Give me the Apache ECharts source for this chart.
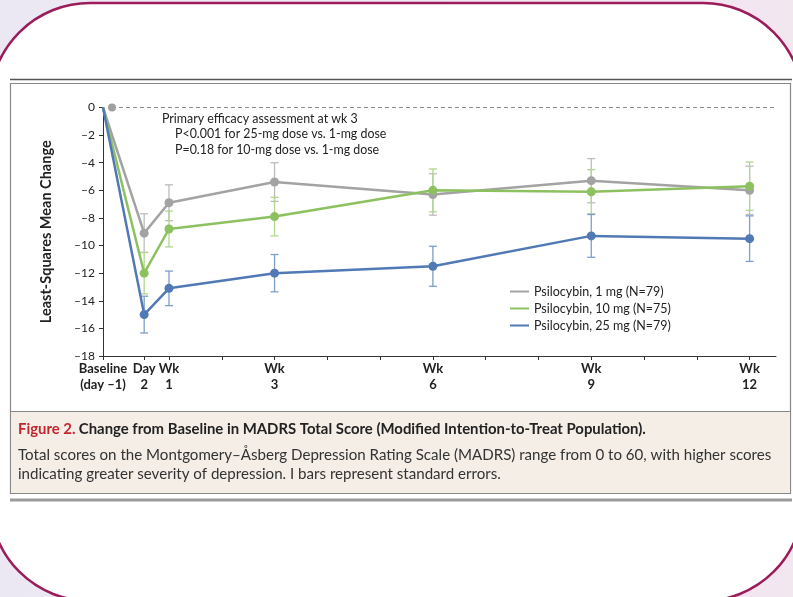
<!DOCTYPE html>
<html>
<head>
<meta charset="utf-8">
<script src="https://cdn.jsdelivr.net/npm/echarts@6/dist/echarts.min.js"></script>
<style>
html,body{margin:0;padding:0;background:#fff;}
#chart{width:793px;height:597px;}
</style>
</head>
<body>
<div id="chart"></div>
<script>
// ---- data ----
const timeLabels = ['Baseline\n(day –1)', 'Day\n2', 'Wk\n1', 'Wk\n3', 'Wk\n6', 'Wk\n9', 'Wk\n12'];
// axis position of each visit, in weeks as drawn on the (schematic) x axis
const timePos = [-0.25, 0.53, 1, 3, 6, 9, 12];
const minorTickPos = [2, 4, 5, 7, 8, 10, 11];

const seriesNames = ['Psilocybin, 1 mg (N=79)', 'Psilocybin, 10 mg (N=75)', 'Psilocybin, 25 mg (N=79)'];
const mean1mg  = [0, -9.1, -6.9, -5.4, -6.3, -5.3, -6.0];
const mean10mg = [0, -12.0, -8.8, -7.9, -6.0, -6.1, -5.7];
const mean25mg = [0, -15.0, -13.1, -12.0, -11.5, -9.3, -9.5];
const se1mg  = [null, 1.4, 1.3, 1.4, 1.5, 1.6, 1.75];
const se10mg = [null, 1.5, 1.3, 1.4, 1.55, 1.6, 1.75];
const se25mg = [null, 1.33, 1.25, 1.35, 1.45, 1.55, 1.65];

const refLineX = [-0.08, 12.48];
const refLineY = [0, 0];

const yTicks = [0, -2, -4, -6, -8, -10, -12, -14, -16, -18];

const annotationLines = [
  'Primary efficacy assessment at wk 3',
  'P<0.001 for 25-mg dose vs. 1-mg dose',
  'P=0.18 for 10-mg dose vs. 1-mg dose'
];
const captionTitleRed = 'Figure 2.';
const captionTitle = 'Change from Baseline in MADRS Total Score (Modified Intention-to-Treat Population).';
const captionBody = ['Total scores on the Montgomery–Åsberg Depression Rating Scale (MADRS) range from 0 to 60, with higher scores',
  'indicating greater severity of depression. I bars represent standard errors.'];

// ---- styling ----
const FONT = 'Lato, "Noto Sans", sans-serif';
const colors = ['#a3a3a3', '#8dc160', '#5079b5'];
const barColors = ['#bcbcbc', '#b3d68f', '#7f9dcb'];

const means = [mean1mg, mean10mg, mean25mg];
const ses = [se1mg, se10mg, se25mg];

function lineData(vals) {
  return vals.map((v, i) => ({
    value: [timePos[i], v],
    symbolSize: i === 0 ? 0 : 9
  }));
}
function barData(vals, se) {
  const out = [];
  vals.forEach((v, i) => {
    if (se[i] != null) out.push([timePos[i], v - se[i], v + se[i]]);
  });
  return out;
}
function errRender(color) {
  return function (params, api) {
    const x = api.value(0);
    const lo = api.coord([x, api.value(1)]);
    const hi = api.coord([x, api.value(2)]);
    const w = 4;
    const st = { stroke: color, lineWidth: 1.3 };
    return {
      type: 'group',
      children: [
        { type: 'line', shape: { x1: hi[0], y1: hi[1], x2: lo[0], y2: lo[1] }, style: st },
        { type: 'line', shape: { x1: hi[0] - w, y1: hi[1], x2: hi[0] + w, y2: hi[1] }, style: st },
        { type: 'line', shape: { x1: lo[0] - w, y1: lo[1], x2: lo[0] + w, y2: lo[1] }, style: st }
      ]
    };
  };
}

function nearestLabel(v) {
  let best = 0, bd = 1e9;
  timePos.forEach((p, i) => { const d = Math.abs(p - v); if (d < bd) { bd = d; best = i; } });
  return bd < 0.05 ? timeLabels[best] : '';
}

const series = [];
means.forEach((m, k) => {
  series.push({
    type: 'custom', name: seriesNames[k] + ' SE', z: 3,
    renderItem: errRender(barColors[k]),
    encode: { x: 0, y: [1, 2] },
    data: barData(m, ses[k]),
    silent: true
  });
});
// reference dashed line
series.push({
  type: 'line', name: 'ref', z: 2, silent: true,
  data: refLineX.map((x, i) => ({ value: [x, refLineY[i]], symbolSize: i === 0 ? 8 : 0 })),
  symbol: 'circle', showSymbol: true,
  itemStyle: { color: '#a0a0a0' },
  lineStyle: { color: '#8a8a8a', width: 1, type: [4, 3] }
});
means.forEach((m, k) => {
  series.push({
    type: 'line', name: seriesNames[k], z: 5 + k,
    data: lineData(m),
    symbol: 'circle',
    itemStyle: { color: colors[k] },
    lineStyle: { color: colors[k], width: 2.5 },
    emphasis: { disabled: true }
  });
});

const graphics = [
  { type: 'rect', z: -30, silent: true, shape: { x: 0, y: 0, width: 793, height: 597 },
    style: { fill: new echarts.graphic.LinearGradient(0, 0, 1, 0, [{ offset: 0, color: '#ebe8f4' }, { offset: 1, color: '#f2e6ef' }]) } },
  { type: 'rect', z: -29, silent: true, shape: { x: -10, y: 3, width: 813, height: 598, r: 100 },
    style: { fill: '#ffffff', stroke: '#9b1b5b', lineWidth: 2.5 } },
  { type: 'line', z: -28, silent: true, shape: { x1: 10, y1: 79.5, x2: 792, y2: 79.5 }, style: { stroke: '#555', lineWidth: 1.5 } },
  { type: 'rect', z: -28, silent: true, shape: { x: 10.5, y: 83.5, width: 780, height: 410 }, style: { fill: '#fff', stroke: '#888', lineWidth: 1.2 } },
  { type: 'rect', z: -27, silent: true, shape: { x: 11, y: 411, width: 779, height: 82 }, style: { fill: '#f4eee7', stroke: null } },
  { type: 'line', z: -27, silent: true, shape: { x1: 11, y1: 411.5, x2: 790, y2: 411.5 }, style: { stroke: '#888', lineWidth: 1.2 } },
  { type: 'line', z: -28, silent: true, shape: { x1: 10, y1: 500, x2: 792, y2: 500 }, style: { stroke: '#9a9a9a', lineWidth: 3 } },
  { type: 'text', z: 20, left: 162, top: 112.5, style: { text: annotationLines[0], font: '12.4px ' + FONT, fill: '#222' } },
  { type: 'text', z: 20, left: 175, top: 128, style: { text: annotationLines[1], font: '12.4px ' + FONT, fill: '#222' } },
  { type: 'text', z: 20, left: 175, top: 143.5, style: { text: annotationLines[2], font: '12.4px ' + FONT, fill: '#222' } },
  { type: 'text', z: 20, left: 18, top: 422, style: {
      text: '{r|' + captionTitleRed + '} {b|' + captionTitle + '}',
      rich: {
        r: { fill: '#c3262f', fontWeight: 'bold', fontSize: 14.9, fontFamily: FONT },
        b: { fill: '#222', fontWeight: 'bold', fontSize: 14.9, fontFamily: FONT }
      } } },
  { type: 'text', z: 20, left: 18, top: 445.5, style: { text: captionBody.join('\n'), fontSize: 15.1, fontFamily: FONT, lineHeight: 19, fill: '#333' } }
];

const chart = echarts.init(document.getElementById('chart'), null, { renderer: 'canvas' });
chart.setOption({
  animation: false,
  textStyle: { fontFamily: FONT },
  graphic: graphics,
  grid: { left: 103, top: 107.5, width: 673, height: 248.5, containLabel: false },
  legend: {
    data: seriesNames,
    orient: 'vertical', left: 505, top: 280,
    icon: 'rect', itemWidth: 19, itemHeight: 2, itemGap: 4,
    textStyle: { fontSize: 12.5, color: '#222', fontFamily: FONT, lineHeight: 12 },
    selectedMode: false
  },
  xAxis: {
    type: 'value', min: -0.25, max: 12.5,
    splitLine: { show: false },
    axisLine: { show: true, onZero: false, lineStyle: { color: '#333', width: 1 } },
    axisTick: { show: true, length: 4, lineStyle: { color: '#333' }, customValues: [-0.25].concat(timePos.slice(1), minorTickPos) },
    axisLabel: {
      customValues: timePos,
      formatter: (v) => nearestLabel(v),
      fontWeight: 'bold', fontSize: 13, color: '#222', lineHeight: 16, margin: 5,
      fontFamily: FONT, showMinLabel: true, showMaxLabel: true
    }
  },
  yAxis: {
    type: 'value', min: -18, max: 0, interval: 2,
    name: 'Least-Squares Mean Change', nameLocation: 'middle', nameGap: 49, nameRotate: 90,
    nameTextStyle: { fontWeight: 'bold', fontSize: 14.5, color: '#222', fontFamily: FONT },
    splitLine: { show: false },
    axisLine: { show: true, onZero: false, lineStyle: { color: '#333', width: 1 } },
    axisTick: { show: true, length: 4, lineStyle: { color: '#333' } },
    axisLabel: { fontSize: 12, color: '#222', margin: 8, fontFamily: FONT,
      formatter: (v) => (yTicks.indexOf(v) >= 0 ? (v < 0 ? '–' + Math.abs(v) : String(v)) : '') }
  },
  series: series
});
</script>
</body>
</html>
